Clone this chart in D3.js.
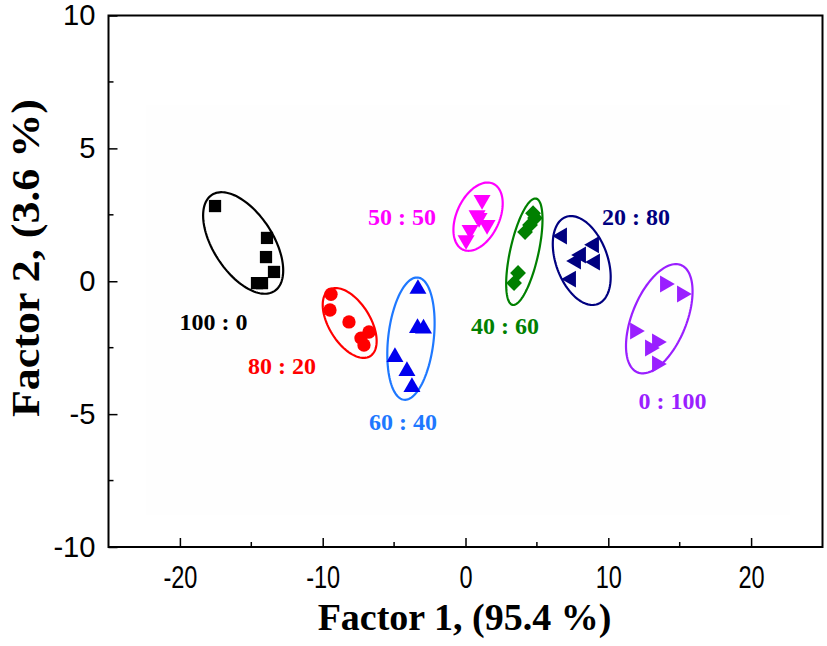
<!DOCTYPE html>
<html><head><meta charset="utf-8">
<script src="https://cdn.jsdelivr.net/npm/d3@7"></script>
<style>body{margin:0;background:#fff}</style>
</head><body>
<svg id="c" width="827" height="646"></svg>
<script>
// ---- data ----
const groups = ["100 : 0","80 : 20","60 : 40","50 : 50","40 : 60","20 : 80","0 : 100"];
const colors = ["#000000","#ff0000","#0000ee","#ff00ff","#008000","#000080","#9a1fff"];
const ellipseColors = ["#000000","#ff0000","#1e78ff","#ff00ff","#008000","#000080","#9a1fff"];
const symbols = ["square","circle","triUp","triDown","diamond","triLeft","triRight"];
const xs = [
  [-17.54,-13.90,-13.97,-13.41,-14.60,-14.25],
  [-9.42,-9.49,-8.16,-6.76,-7.32,-7.11],
  [-3.33,-3.36,-2.94,-4.94,-4.10,-3.75],
  [1.16,0.81,1.51,0.32,0.04,0.95],
  [4.73,4.52,4.17,3.68,3.40,4.87],
  [6.76,9.00,8.09,7.74,9.07,7.39],
  [13.97,15.16,11.87,13.41,12.92,13.41]
];
const ys = [
  [2.83,1.63,0.91,0.35,-0.07,-0.07],
  [-0.49,-1.08,-1.53,-1.91,-2.14,-2.40],
  [-0.29,-1.76,-1.78,-2.85,-3.38,-3.98],
  [3.06,2.49,2.12,1.93,1.55,2.38],
  [2.56,2.12,1.85,0.31,-0.07,2.38],
  [1.70,1.37,0.99,0.76,0.72,0.08],
  [-0.10,-0.48,-1.87,-2.29,-2.51,-3.11]
];
// ellipse: centre (data), major semi-axis vector (data), minor/major ratio
const ellCx = [-15.57,-8.11,-3.82,0.88,4.12,8.14,13.57];
const ellCy = [1.44,-1.57,-2.16,2.43,1.11,0.78,-1.41];
const ellUx = [2.19,1.43,-0.488,1.06,0.826,1.11,1.52];
const ellUy = [-1.81,-1.25,-2.30,1.24,2.00,-1.64,2.02];
const ellRatio = [0.52,0.53,0.37,0.59,0.26,0.556,0.47];
// label positions (data)
const labX = [-17.65,-12.85,-4.38,-4.45,2.77,11.94,14.5];
const labY = [-1.53,-3.19,-5.29,2.42,-1.67,2.42,-4.5];
const labColors = ["#000000","#ff0000","#1e78ff","#ff00ff","#008000","#000080","#9a1fff"];
const xTicks = [-20,-10,0,10,20];
const yTicks = [-10,-5,0,5,10];
const xTitle = "Factor 1, (95.4 %)";
const yTitle = "Factor 2, (3.6 %)";

// ---- chart ----
const svg = d3.select("#c");
const L=108.5, R=822.5, T=15.5, B=547;
const x = d3.scaleLinear().domain([-25,25]).range([L,R]);
const y = d3.scaleLinear().domain([-10,10]).range([B,T]);

// faint background
svg.append("rect").attr("x",x(-22.4)).attr("y",y(6.63)).attr("width",x(22.7)-x(-22.4)).attr("height",y(-8.8)-y(6.63)).attr("fill","#fefefe");

// ellipses
groups.forEach((g,i)=>{
  const cx=x(ellCx[i]), cy=y(ellCy[i]);
  const Ux = x(ellCx[i]+ellUx[i])-cx, Uy = y(ellCy[i]+ellUy[i])-cy;
  const Vx = -Uy*ellRatio[i], Vy = Ux*ellRatio[i];
  const pts = d3.range(0,361,3).map(a=>{const t=a*Math.PI/180;return [cx+Math.cos(t)*Ux+Math.sin(t)*Vx, cy+Math.cos(t)*Uy+Math.sin(t)*Vy];});
  svg.append("path").attr("d",d3.line()(pts)+"Z").attr("fill","none").attr("stroke",ellipseColors[i]).attr("stroke-width",2.2);
});

// markers
const symDef = {
  square:[d3.symbolSquare,150,0], circle:[d3.symbolCircle,140,0],
  triUp:[d3.symbolTriangle,125,0], triDown:[d3.symbolTriangle,125,180],
  diamond:[d3.symbolSquare,125,45], triLeft:[d3.symbolTriangle,125,-90], triRight:[d3.symbolTriangle,125,90]
};
groups.forEach((g,i)=>{
  const sd = symDef[symbols[i]];
  svg.append("g").selectAll("path").data(xs[i].map((v,j)=>[v,ys[i][j]])).join("path")
    .attr("d",d3.symbol().type(sd[0]).size(sd[1]))
    .attr("transform",d=>`translate(${x(d[0])},${y(d[1])}) rotate(${sd[2]})`)
    .attr("fill",colors[i]);
});

// labels
groups.forEach((g,i)=>{
  svg.append("text").attr("x",x(labX[i])).attr("y",y(labY[i])).attr("dy","0.35em")
    .attr("text-anchor","middle").attr("font-family","Liberation Serif, Times New Roman, serif")
    .attr("font-weight","bold").attr("font-size",24).attr("fill",labColors[i]).text(g);
});

// axes frame
svg.append("rect").attr("x",L).attr("y",T).attr("width",R-L).attr("height",B-T).attr("fill","none").attr("stroke","#000").attr("stroke-width",2);
const fmt = d=>String(d);
const xAxis = d3.axisBottom(x).tickValues(xTicks).tickSize(-9).tickPadding(19).tickFormat(fmt);
const gx = svg.append("g").attr("transform",`translate(0,${B})`).call(xAxis);
gx.select(".domain").remove();
gx.selectAll("line").attr("stroke-width",1.5);
gx.selectAll("text").attr("font-family","Liberation Sans, Arial, sans-serif").attr("font-size",31).attr("fill","#000")
  .attr("transform","scale(0.76,1)");
d3.range(-25,26,5).filter(v=>v%10!==0 && Math.abs(v)!==25).forEach(v=>{
  svg.append("line").attr("x1",x(v)).attr("x2",x(v)).attr("y1",B).attr("y2",B-5).attr("stroke","#000").attr("stroke-width",1.5);
});
const yAxis = d3.axisLeft(y).tickValues(yTicks).tickSize(-9).tickPadding(12).tickFormat(fmt);
const gy = svg.append("g").attr("transform",`translate(${L},0)`).call(yAxis);
gy.select(".domain").remove();
gy.selectAll("line").attr("stroke-width",1.5);
gy.selectAll("text").attr("font-family","Liberation Sans, Arial, sans-serif").attr("font-size",27).attr("fill","#000")
  .attr("transform","scale(1.08,1.08)");
d3.range(-7.5,8,5).forEach(v=>{
  svg.append("line").attr("x1",L).attr("x2",L+5).attr("y1",y(v)).attr("y2",y(v)).attr("stroke","#000").attr("stroke-width",1.5);
});

// titles
svg.append("text").attr("x",(L+R)/2-1).attr("y",630).attr("text-anchor","middle")
  .attr("font-family","Liberation Serif, Times New Roman, serif").attr("font-weight","bold").attr("font-size",38).text(xTitle);
svg.append("text").attr("transform",`translate(39,258) rotate(-90) scale(1.1,1)`).attr("text-anchor","middle")
  .attr("font-family","Liberation Serif, Times New Roman, serif").attr("font-weight","bold").attr("font-size",40).text(yTitle);
</script>
</body></html>
